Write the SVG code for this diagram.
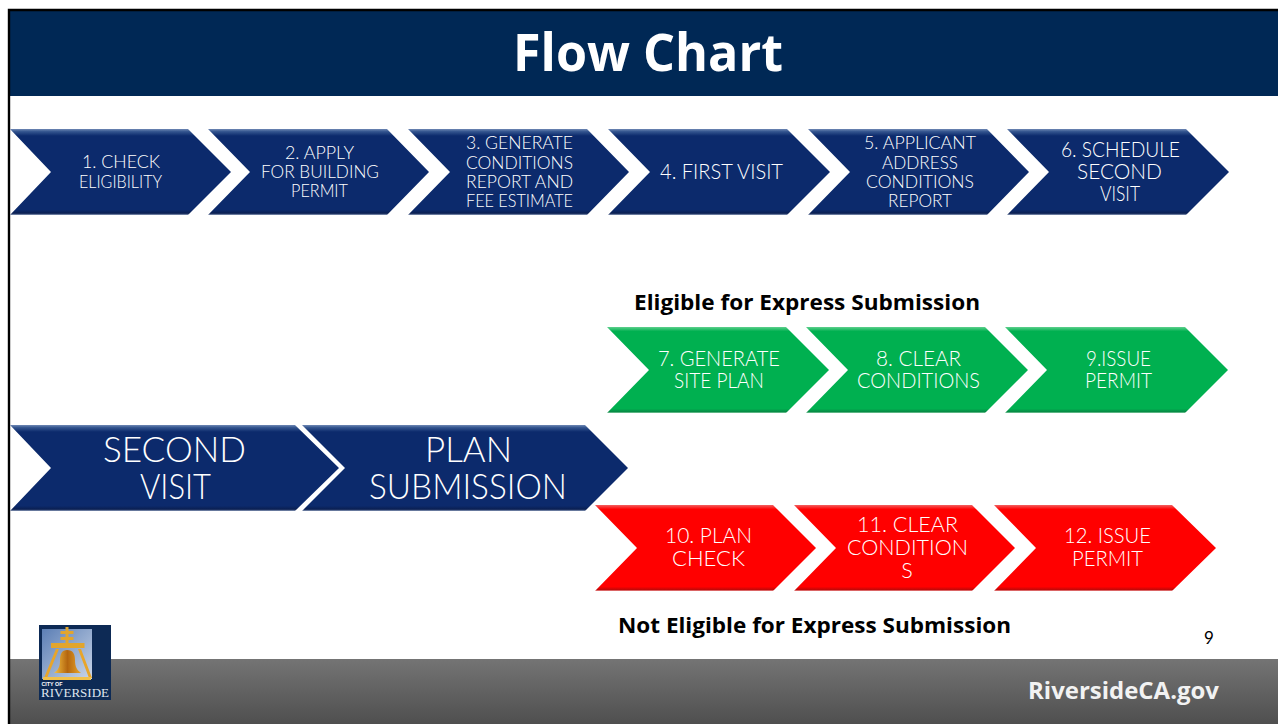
<svg xmlns="http://www.w3.org/2000/svg" width="1278" height="724" viewBox="0 0 1278 724">
<style>
text{font-family:"Lato","Open Sans","Liberation Sans",sans-serif;font-weight:300;text-anchor:middle;fill:#fff}
.b{font-family:"Open Sans","Liberation Sans",sans-serif;font-weight:700;fill:#000;text-anchor:start;font-size:22px}
.s{font-size:18px}.m{font-size:21.5px}.l{font-size:36px}
</style>
<defs>
<linearGradient id="navy" x1="0" y1="0" x2="0" y2="1"><stop offset="0" stop-color="#6f88b4"/><stop offset=".03" stop-color="#34558f"/><stop offset=".08" stop-color="#0c2a6c"/><stop offset=".94" stop-color="#0c2a6c"/><stop offset=".98" stop-color="#0a1f52"/><stop offset="1" stop-color="#8d9dbb"/></linearGradient>
<linearGradient id="green" x1="0" y1="0" x2="0" y2="1"><stop offset="0" stop-color="#5fd08d"/><stop offset=".05" stop-color="#00b050"/><stop offset=".95" stop-color="#00b050"/><stop offset=".985" stop-color="#078a45"/><stop offset="1" stop-color="#90cfa9"/></linearGradient>
<linearGradient id="red" x1="0" y1="0" x2="0" y2="1"><stop offset="0" stop-color="#f26060"/><stop offset=".05" stop-color="#f00"/><stop offset=".95" stop-color="#f00"/><stop offset=".985" stop-color="#c00808"/><stop offset="1" stop-color="#eba0a0"/></linearGradient>
<linearGradient id="foot" x1="0" y1="0" x2="0" y2="1"><stop offset="0" stop-color="#747474"/><stop offset="1" stop-color="#4f4f4f"/></linearGradient>
<linearGradient id="bell" x1="0" y1="0" x2="1" y2="0"><stop offset="0" stop-color="#f5c242"/><stop offset=".5" stop-color="#b4660f"/><stop offset="1" stop-color="#e8a52a"/></linearGradient>
<linearGradient id="sky" x1="0" y1="0" x2="1" y2="1"><stop offset="0" stop-color="#5c7fb5"/><stop offset="1" stop-color="#c9d5e8"/></linearGradient>
</defs>
<rect width="1278" height="724" fill="#fff"/>
<g id="frame">
<rect x="10" y="11" width="1268" height="85" fill="#002855"/>
<rect x="10" y="659" width="1268" height="65" fill="url(#foot)"/>
<path d="M9 724V10H1278" fill="none" stroke="#000" stroke-width="2.4"/>
<text x="648" y="71" textLength="270" lengthAdjust="spacingAndGlyphs" style="font-family:'Open Sans','Liberation Sans',sans-serif;font-weight:700;font-size:52px">Flow Chart</text>
</g>
<g id="connectors"/>
<g id="n1"><polygon points="10,129 188,129 231,172 188,215 10,215 51,172" fill="url(#navy)"/><text class="s" x="121" y="168" textLength="78" lengthAdjust="spacingAndGlyphs">1. CHECK</text><text class="s" x="120.500" y="188" textLength="83" lengthAdjust="spacingAndGlyphs">ELIGIBILITY</text></g>
<g id="n2"><polygon points="208,129 387,129 429,172 387,215 208,215 250,172" fill="url(#navy)"/><text class="s" x="319.500" y="159" textLength="69" lengthAdjust="spacingAndGlyphs">2. APPLY</text><text class="s" x="320" y="178" textLength="118" lengthAdjust="spacingAndGlyphs">FOR BUILDING</text><text class="s" x="319.500" y="197" textLength="57" lengthAdjust="spacingAndGlyphs">PERMIT</text></g>
<g id="n3"><polygon points="408,129 587,129 629,172 587,215 408,215 450,172" fill="url(#navy)"/><text class="s" x="519.500" y="149" textLength="107" lengthAdjust="spacingAndGlyphs">3. GENERATE</text><text class="s" x="519.500" y="169" textLength="107" lengthAdjust="spacingAndGlyphs">CONDITIONS</text><text class="s" x="519.500" y="188" textLength="107" lengthAdjust="spacingAndGlyphs">REPORT AND</text><text class="s" x="519.500" y="207" textLength="107" lengthAdjust="spacingAndGlyphs">FEE ESTIMATE</text></g>
<g id="n4"><polygon points="608,129 787,129 830,172 787,215 608,215 650,172" fill="url(#navy)"/><text class="m" x="721.500" y="179" textLength="123" lengthAdjust="spacingAndGlyphs">4. FIRST VISIT</text></g>
<g id="n5"><polygon points="808,129 987,129 1029,172 987,215 808,215 850,172" fill="url(#navy)"/><text class="s" x="920" y="149" textLength="112" lengthAdjust="spacingAndGlyphs">5. APPLICANT</text><text class="s" x="920" y="169" textLength="76" lengthAdjust="spacingAndGlyphs">ADDRESS</text><text class="s" x="920" y="188" textLength="108" lengthAdjust="spacingAndGlyphs">CONDITIONS</text><text class="s" x="920" y="207" textLength="64" lengthAdjust="spacingAndGlyphs">REPORT</text></g>
<g id="n6"><polygon points="1007,129 1186,129 1229,172 1186,215 1007,215 1049,172" fill="url(#navy)"/><text class="m" x="1120.500" y="157" textLength="119" lengthAdjust="spacingAndGlyphs">6. SCHEDULE</text><text class="m" x="1119.500" y="179" textLength="85" lengthAdjust="spacingAndGlyphs">SECOND</text><text class="m" x="1120" y="201" textLength="40" lengthAdjust="spacingAndGlyphs">VISIT</text></g>
<text class="b" x="634" y="310" textLength="346" lengthAdjust="spacingAndGlyphs">Eligible for Express Submission</text>
<g id="n7"><polygon points="607,327 786,327 829,370 786,413 607,413 649,370" fill="url(#green)"/><text class="m" x="719" y="366" textLength="122" lengthAdjust="spacingAndGlyphs">7. GENERATE</text><text class="m" x="719" y="388" textLength="90" lengthAdjust="spacingAndGlyphs">SITE PLAN</text></g>
<g id="n8"><polygon points="806,327 985,327 1028,370 985,413 806,413 848,370" fill="url(#green)"/><text class="m" x="918.500" y="366" textLength="85" lengthAdjust="spacingAndGlyphs">8. CLEAR</text><text class="m" x="918.500" y="388" textLength="123" lengthAdjust="spacingAndGlyphs">CONDITIONS</text></g>
<g id="n9"><polygon points="1005,327 1185,327 1228,370 1185,413 1005,413 1047,370" fill="url(#green)"/><text class="m" x="1118.500" y="366" textLength="65" lengthAdjust="spacingAndGlyphs">9.ISSUE</text><text class="m" x="1118.500" y="388" textLength="67" lengthAdjust="spacingAndGlyphs">PERMIT</text></g>
<g id="second-visit"><polygon points="10,425 295,425 339,468 295,511 10,511 51,468" fill="url(#navy)"/><text class="l" x="174.500" y="462" textLength="143" lengthAdjust="spacingAndGlyphs">SECOND</text><text class="l" x="175.500" y="499" textLength="71" lengthAdjust="spacingAndGlyphs">VISIT</text></g>
<g id="plan-submission"><polygon points="302,425 585,425 628,468 585,511 302,511 345,468" fill="url(#navy)"/><text class="l" x="468.500" y="462" textLength="87" lengthAdjust="spacingAndGlyphs">PLAN</text><text class="l" x="468" y="499" textLength="198" lengthAdjust="spacingAndGlyphs">SUBMISSION</text></g>
<g id="n10"><polygon points="595,505 773,505 816,548 773,591 595,591 637,548" fill="url(#red)"/><text class="m" x="708.500" y="543" textLength="87" lengthAdjust="spacingAndGlyphs">10. PLAN</text><text class="m" x="708.500" y="566" textLength="73" lengthAdjust="spacingAndGlyphs">CHECK</text></g>
<g id="n11"><polygon points="794,505 972,505 1015,548 972,591 794,591 836,548" fill="url(#red)"/><text class="m" x="907.500" y="532" textLength="101" lengthAdjust="spacingAndGlyphs">11. CLEAR</text><text class="m" x="907.500" y="555" textLength="121" lengthAdjust="spacingAndGlyphs">CONDITION</text><text class="m" x="907" y="578">S</text></g>
<g id="n12"><polygon points="994,505 1172,505 1216,548 1172,591 994,591 1036,548" fill="url(#red)"/><text class="m" x="1107.500" y="543" textLength="87" lengthAdjust="spacingAndGlyphs">12. ISSUE</text><text class="m" x="1107.500" y="566" textLength="71" lengthAdjust="spacingAndGlyphs">PERMIT</text></g>
<text class="b" x="618" y="633" textLength="393" lengthAdjust="spacingAndGlyphs">Not Eligible for Express Submission</text>
<text x="1209" y="644" style="fill:#000;font-size:17px;font-weight:400">9</text>
<text x="1123.500" y="699" textLength="191" lengthAdjust="spacingAndGlyphs" style="font-family:'Open Sans','Liberation Sans',sans-serif;font-weight:700;font-size:23px;fill:#f2f2f2">RiversideCA.gov</text>
<g id="logo">
<rect x="39" y="625" width="72" height="75" fill="#0d2a55"/>
<rect x="42" y="629" width="50" height="50" fill="url(#sky)"/>
<path d="M65.500 627h3v4h5v3h-5v3h5v3h-5v3h16v5H51v-5h14.500v-3h-5v-3h5v-3h-5v-3h5z" fill="#e2a52d"/>
<path d="M56 649h3L47 678h-3zM78 649h3l11 29h-3z" fill="#e8a52a"/>
<path d="M67 650c6 0 8 4 8 10 0 7 2 10 6 13H54c4-3 6-6 6-13 0-6 2-10 7-10z" fill="url(#bell)"/>
<rect x="43" y="677" width="48" height="3" fill="#f1c14a"/>
<text x="52" y="686" textLength="21" lengthAdjust="spacingAndGlyphs" style="font-family:'Liberation Sans',sans-serif;font-size:5px;font-weight:700">CITY OF</text>
<text x="75" y="697" textLength="68" lengthAdjust="spacingAndGlyphs" style="font-family:'Liberation Serif',serif;font-size:12.500px;font-weight:400;fill:#dfe5ee">RIVERSIDE</text>
</g>
</svg>
